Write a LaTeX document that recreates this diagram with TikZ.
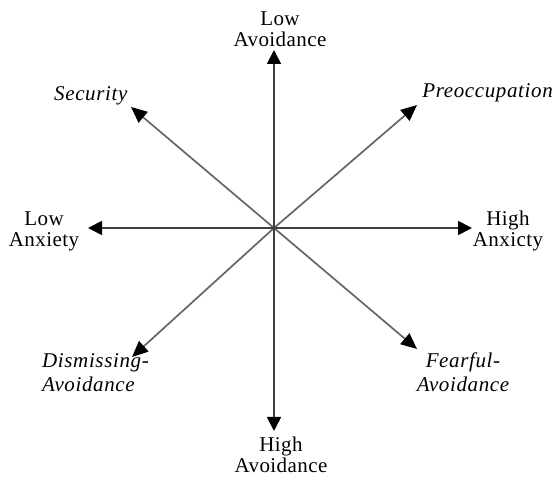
\documentclass[tikz,border=0pt]{standalone}
\usepackage{fontspec}
\setmainfont{Liberation Serif}
\usetikzlibrary{arrows.meta}
\begin{document}
\begin{tikzpicture}[x=1pt,y=-1pt,
  axis/.style={draw=black!75, line width=1.7pt, -{Triangle[length=14pt,width=14pt,fill=black,color=black]}},
  diag/.style={draw=black!60, line width=1.7pt, -{Triangle[length=16pt,width=14pt,fill=black,color=black]}},
  lbl/.style={inner sep=0pt, align=center, font=\fontsize{21}{21.5}\selectfont\addfontfeature{LetterSpace=2}},
  ilbl/.style={inner sep=0pt, align=left, font=\fontsize{21}{24}\selectfont\itshape\addfontfeature{LetterSpace=3}}]
\useasboundingbox[fill=white] (0,0) rectangle (555,478);
\coordinate (c) at (274,228);
\coordinate (tU) at (274,50);
\coordinate (tD) at (274,431);
\coordinate (tL) at (88,228);
\coordinate (tR) at (472,228);
\coordinate (tUL) at (131,107);
\coordinate (tUR) at (417,105);
\coordinate (tDL) at (132,357);
\coordinate (tDR) at (417,349);
\draw[diag] (c) -- (tUL);
\draw[diag] (c) -- (tUR);
\draw[diag] (c) -- (tDL);
\draw[diag] (c) -- (tDR);
\draw[axis] (c) -- (tU);
\draw[axis] (c) -- (tD);
\draw[axis] (c) -- (tL);
\draw[axis] (c) -- (tR);
\node[lbl, anchor=base] (lowav) at (280,47) {Low\\Avoidance};
\node[lbl, anchor=base] (highav) at (281,473) {High\\Avoidance};
\node[lbl, anchor=base] (lowanx) at (44,247) {Low\\Anxiety};
\node[lbl, anchor=base] (highanx) at (508,247) {High\\Anxicty};
\node[ilbl, anchor=base west] (sec) at (54,101) {Security};
\node[ilbl, anchor=base east] (pre) at (553,98) {Preoccupation};
\node[ilbl, anchor=base west] (dis) at (42,392) {Dismissing-\\Avoidance};
\node[ilbl, align=center, anchor=base] (fea) at (463,392) {Fearful-\\Avoidance};
\end{tikzpicture}
\end{document}
